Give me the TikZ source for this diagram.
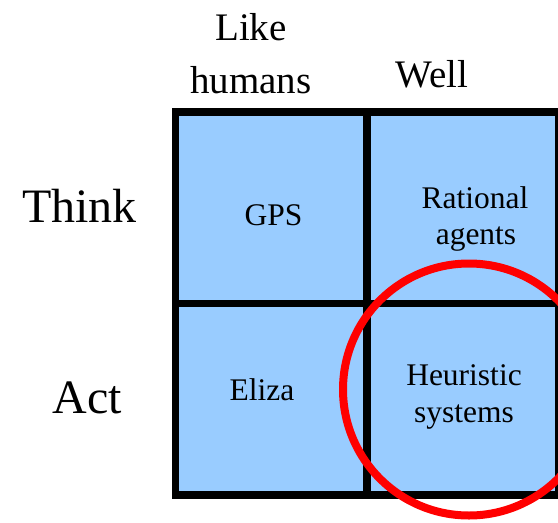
\documentclass[tikz,border=0pt]{standalone}
\usepackage{fontspec}
\setmainfont{Liberation Serif}
\newfontfamily\tnr{Liberation Serif}
\definecolor{cellblue}{HTML}{99CCFF}
\definecolor{ringred}{HTML}{FF0000}
\tikzset{
  cell/.style={draw=black, line width=7.5pt, fill=cellblue, rectangle, inner sep=0pt, minimum width=191.5pt, minimum height=191.5pt},
  head/.style={anchor=base, inner sep=0pt, font=\tnr\fontsize{39}{46}\selectfont},
  rowhead/.style={anchor=base, inner sep=0pt, font=\tnr\fontsize{48}{57}\selectfont},
  celltext/.style={anchor=base, inner sep=0pt, font=\tnr\fontsize{31.5}{37}\selectfont},
  ring/.style={draw=ringred, line width=8pt, circle, minimum size=252pt, inner sep=0pt}
}
\begin{document}
\begin{tikzpicture}[x=1pt,y=-1pt]
\useasboundingbox (0,0) rectangle (558,523);
\clip (0,0) rectangle (558,523);
\node[cell] (c11) at (271.25,207.5) {};
\node[cell] (c12) at (463,207.5) {};
\node[cell] (c21) at (271.25,399) {};
\node[cell] (c22) at (463,399) {};
\node[head] (like) at (251,40) {Like};
\node[head] (humans) at (251,93) {humans};
\node[head] (well) at (432,87) {Well};
\node[rowhead] (think) at (79.5,222) {Think};
\node[rowhead] (act) at (87.5,413) {Act};
\node[celltext] (gps) at (273.5,225) {GPS};
\node[celltext] (rational) at (475,208) {Rational};
\node[celltext] (agents) at (476,244) {agents};
\node[celltext] (eliza) at (262,400.5) {Eliza};
\node[celltext] (heur) at (464,385) {Heuristic};
\node[celltext] (syst) at (464,422) {systems};
\node[ring] (circ) at (469,389.5) {};
\end{tikzpicture}
\end{document}
